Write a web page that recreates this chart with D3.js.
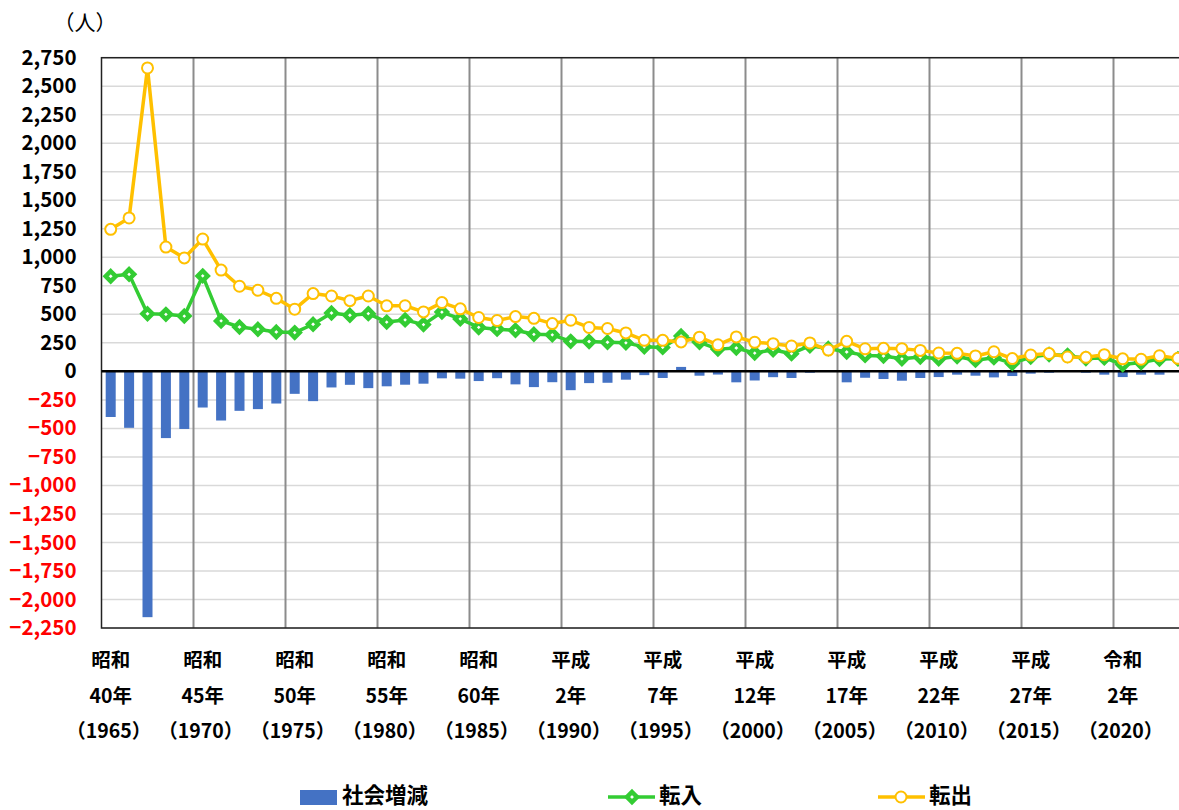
<!DOCTYPE html>
<html>
<head>
<meta charset="utf-8">
<script src="https://cdn.jsdelivr.net/npm/d3@7"></script>
<style>
  body { margin: 0; background: #fff; }
  svg { display: block; font-family: "Noto Sans CJK JP", "Noto Sans", sans-serif; }
</style>
</head>
<body>
<div id="chart"></div>
<script>
// years 1965 - 2023
const years = d3.range(1965, 2024);

// 社会増減 (bars)
const netValues = [
  -400, -495, -2155, -585, -505, -317, -431, -346, -331, -282,
  -197, -261, -141, -118, -147, -131, -117, -108, -61, -64,
  -85, -60, -114, -138, -95, -165, -103, -100, -73, -33,
  -58, 39, -38, -28, -96, -80, -51, -58, -12, 3,
  -96, -56, -67, -82, -58, -50, -29, -38, -53, -41,
  -20, -12, -3, -12, -29, -50, -29, -29, -4
];

// 転入
const inValues = [
  834, 851, 505, 500, 485, 837, 442, 389, 369, 345,
  340, 413, 512, 492, 506, 432, 451, 410, 520, 460,
  385, 370, 360, 325, 320, 263, 262, 255, 250, 215,
  210, 310, 255, 195, 205, 160, 190, 155, 225, 200,
  170, 140, 135, 110, 125, 110, 130, 98, 120, 70,
  125, 148, 140, 112, 118, 60, 78, 108, 110
];

// 転出
const outValues = [
  1245, 1345, 2660, 1090, 995, 1160, 888, 746, 711, 640,
  545, 682, 661, 620, 661, 575, 575, 521, 603, 548,
  472, 446, 480, 465, 419, 448, 385, 376, 337, 272,
  272, 258, 300, 233, 302, 255, 243, 222, 249, 187,
  263, 198, 202, 199, 184, 161, 158, 135, 172, 112,
  143, 156, 126, 123, 146, 110, 106, 137, 114
];

const yTicks = d3.range(-2250, 2751, 250);

const labelYears = [1965, 1970, 1975, 1980, 1985, 1990, 1995, 2000, 2005, 2010, 2015, 2020];
const labelEra = ["昭和", "昭和", "昭和", "昭和", "昭和", "平成", "平成", "平成", "平成", "平成", "平成", "令和"];
const labelNen = ["40年", "45年", "50年", "55年", "60年", "2年", "7年", "12年", "17年", "22年", "27年", "2年"];

const seriesNames = ["社会増減", "転入", "転出"];
const colors = {bar: "#4472C4", in: "#33CC33", out: "#FFC000"};

const width = 1179, height = 810;
const margin = {top: 57.7, left: 101.5, bottom: 628};
const step = 18.4;

const svg = d3.select("#chart").append("svg")
    .attr("width", width)
    .attr("height", height);

const x = d3.scaleBand()
    .domain(years)
    .range([margin.left, margin.left + years.length * step])
    .padding(0);

const y = d3.scaleLinear()
    .domain([-2250, 2750])
    .range([margin.bottom, margin.top]);

const plotRight = margin.left + years.length * step;

// horizontal grid
svg.append("g")
    .selectAll("line")
    .data(yTicks)
    .join("line")
    .attr("x1", margin.left)
    .attr("x2", plotRight)
    .attr("y1", d => y(d))
    .attr("y2", d => y(d))
    .attr("stroke", "#d9d9d9")
    .attr("stroke-width", 1.5);

// vertical grid every 5 years
svg.append("g")
    .selectAll("line")
    .data(years.filter((d, i) => i > 0 && i % 5 === 0))
    .join("line")
    .attr("x1", d => x(d))
    .attr("x2", d => x(d))
    .attr("y1", margin.top)
    .attr("y2", margin.bottom)
    .attr("stroke", "#8c8c8c")
    .attr("stroke-width", 2);

// plot border
svg.append("rect")
    .attr("x", margin.left)
    .attr("y", margin.top)
    .attr("width", plotRight - margin.left)
    .attr("height", margin.bottom - margin.top)
    .attr("fill", "none")
    .attr("stroke", "#222")
    .attr("stroke-width", 1.5);

// bars
const barW = 10;
svg.append("g")
    .selectAll("rect")
    .data(years)
    .join("rect")
    .attr("x", d => x(d) + x.bandwidth() / 2 - barW / 2)
    .attr("width", barW)
    .attr("y", (d, i) => y(Math.max(0, netValues[i])))
    .attr("height", (d, i) => Math.abs(y(netValues[i]) - y(0)))
    .attr("fill", colors.bar);

// zero line
svg.append("line")
    .attr("x1", margin.left)
    .attr("x2", plotRight)
    .attr("y1", y(0))
    .attr("y2", y(0))
    .attr("stroke", "#000")
    .attr("stroke-width", 2.5);

const cx = d => x(d) + x.bandwidth() / 2;
const line = d3.line()
    .x(d => cx(d.year))
    .y(d => y(d.value));

const inData = years.map((yr, i) => ({year: yr, value: inValues[i]}));
const outData = years.map((yr, i) => ({year: yr, value: outValues[i]}));

const diamond = "M0,-5L5,0L0,5L-5,0Z";

// 転入
svg.append("path")
    .datum(inData)
    .attr("d", line)
    .attr("fill", "none")
    .attr("stroke", colors.in)
    .attr("stroke-width", 3.5)
    .attr("stroke-linejoin", "round");

svg.append("g")
    .selectAll("path")
    .data(inData)
    .join("path")
    .attr("d", diamond)
    .attr("transform", d => `translate(${cx(d.year)},${y(d.value)})`)
    .attr("fill", "#fff")
    .attr("stroke", colors.in)
    .attr("stroke-width", 4.5);

// 転出
svg.append("path")
    .datum(outData)
    .attr("d", line)
    .attr("fill", "none")
    .attr("stroke", colors.out)
    .attr("stroke-width", 3.5)
    .attr("stroke-linejoin", "round");

svg.append("g")
    .selectAll("circle")
    .data(outData)
    .join("circle")
    .attr("cx", d => cx(d.year))
    .attr("cy", d => y(d.value))
    .attr("r", 5.5)
    .attr("fill", "#fff")
    .attr("stroke", colors.out)
    .attr("stroke-width", 2);

// y axis labels
const yAxis = svg.append("g")
    .attr("transform", `translate(${margin.left},0)`)
    .call(d3.axisLeft(y).tickValues(yTicks).tickSize(0).tickPadding(25).tickFormat(d3.format(",")));
yAxis.select(".domain").remove();
yAxis.selectAll("text")
    .attr("font-family", "\"Noto Sans CJK JP\", sans-serif")
    .attr("font-size", 20.5)
    .attr("font-weight", "bold")
    .attr("fill", d => d < 0 ? "#FF0000" : "#000");

// unit
svg.append("text")
    .attr("x", 85)
    .attr("y", 30)
    .attr("text-anchor", "middle")
    .attr("font-size", 21)
    .text("（人）");

// x labels
const xl = svg.append("g")
    .selectAll("g")
    .data(labelYears)
    .join("g")
    .attr("transform", d => `translate(${cx(d)},0)`)
    .attr("font-size", 19.5)
    .attr("font-weight", "bold")
    .attr("text-anchor", "middle");

xl.append("text").attr("y", 667).text((d, i) => labelEra[i]);
xl.append("text").attr("y", 703).text((d, i) => labelNen[i]);
xl.append("text").attr("y", 738).attr("x", -2).text(d => `（${d}）`);

// legend
const lg = svg.append("g").attr("font-size", 21.5).attr("font-weight", "bold");
lg.append("rect").attr("x", 300).attr("y", 790).attr("width", 37).attr("height", 15).attr("fill", colors.bar);
lg.append("text").attr("x", 342).attr("y", 803).text(seriesNames[0]);

lg.append("line").attr("x1", 608).attr("x2", 655).attr("y1", 797).attr("y2", 797)
    .attr("stroke", colors.in).attr("stroke-width", 3.5);
lg.append("path").attr("d", diamond).attr("transform", "translate(632,797)")
    .attr("fill", "#fff").attr("stroke", colors.in).attr("stroke-width", 4.5);
lg.append("text").attr("x", 659).attr("y", 803).text(seriesNames[1]);

lg.append("line").attr("x1", 878).attr("x2", 925).attr("y1", 797).attr("y2", 797)
    .attr("stroke", colors.out).attr("stroke-width", 3.5);
lg.append("circle").attr("cx", 901).attr("cy", 797).attr("r", 5.5)
    .attr("fill", "#fff").attr("stroke", colors.out).attr("stroke-width", 2);
lg.append("text").attr("x", 929).attr("y", 803).text(seriesNames[2]);
</script>
</body>
</html>
